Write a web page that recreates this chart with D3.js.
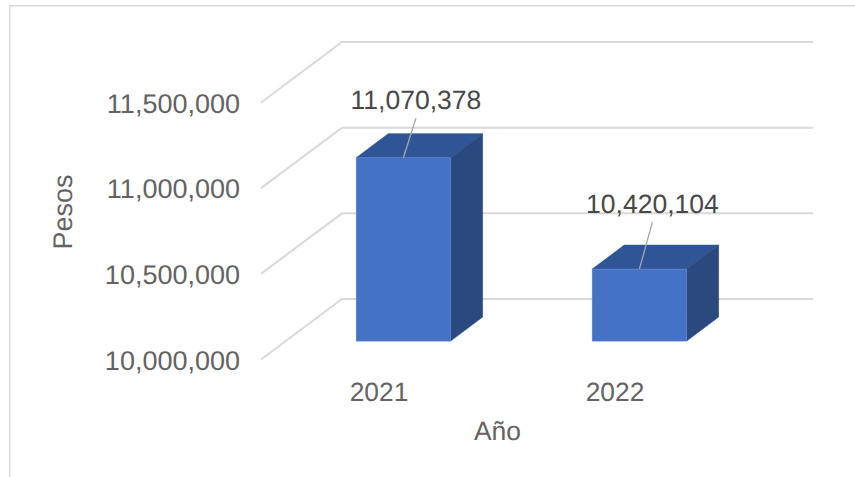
<!DOCTYPE html>
<html>
<head>
<meta charset="utf-8">
<script src="https://cdn.jsdelivr.net/npm/d3@7"></script>
<style>
html,body{margin:0;padding:0;background:#fff;}
svg{display:block;}
text{font-family:"Liberation Sans",Arial,sans-serif;text-rendering:geometricPrecision;}
</style>
</head>
<body>
<svg id="chart" width="855" height="477"></svg>
<script>
const categories = ["2021", "2022"];
const values = [11070378, 10420104];
const tickValues = [10000000, 10500000, 11000000, 11500000];
const yAxisTitle = "Pesos";
const xAxisTitle = "Año";

const svg = d3.select("#chart");

// Frame
svg.append("path")
  .attr("d", "M9.75,477V5.75H855")
  .attr("fill", "none").attr("stroke", "#d9d9d9").attr("stroke-width", 1.5);

// Front plane scales
const y = d3.scaleLinear().domain([10000000, 11500000]).range([359.5, 102.5]);
const x = d3.scaleBand().domain(categories).range([261, 733]).paddingInner(0.6).paddingOuter(0.3);

// 3D offsets
const floor = {dx: 81, dy: -60.5};    // full depth of the plot box
const barInset = {dx: 24.4, dy: -18.4}; // front of bar from the front plane
const barDepth = {dx: 32, dy: -24};
const gridRight = 813;

// Gridlines
const grid = svg.append("g").attr("fill", "none").attr("stroke", "#d9d9d9").attr("stroke-width", 2);
grid.selectAll("path").data(tickValues).join("path")
  .attr("d", d => `M${x.range()[0]},${y(d)}L${x.range()[0] + floor.dx},${y(d) + floor.dy}H${gridRight}`);

// Bars
const bars = svg.append("g").selectAll("g").data(categories.map((c, i) => ({c, v: values[i]}))).join("g");
const X0 = d => x(d.c) + barInset.dx;
const X1 = d => X0(d) + x.bandwidth();
const YB = () => y(10000000) + barInset.dy;
const YT = d => y(d.v) + barInset.dy;

bars.append("path")
  .attr("d", d => `M${X0(d)},${YT(d)}l${barDepth.dx},${barDepth.dy}H${X1(d) + barDepth.dx}L${X1(d)},${YT(d)}Z`)
  .attr("fill", "#2f5597").attr("stroke", "#2f5597").attr("stroke-width", 0.6);
bars.append("path")
  .attr("d", d => `M${X1(d)},${YT(d)}l${barDepth.dx},${barDepth.dy}V${YB() + barDepth.dy}L${X1(d)},${YB()}Z`)
  .attr("fill", "#2a4a7f").attr("stroke", "#2a4a7f").attr("stroke-width", 0.6);
bars.append("rect")
  .attr("x", X0).attr("y", YT)
  .attr("width", x.bandwidth()).attr("height", d => YB() - YT(d))
  .attr("fill", "#4472c4").attr("stroke", "#5f88d0").attr("stroke-width", 0.6);

// Leader lines
const labelDx = [12.5, 13], labelDy = [-39.5, -47];
bars.append("line")
  .attr("x1", d => (X0(d) + X1(d)) / 2).attr("y1", YT)
  .attr("x2", (d, i) => (X0(d) + X1(d)) / 2 + labelDx[i])
  .attr("y2", (d, i) => YT(d) + labelDy[i])
  .attr("stroke", "#a6a6a6").attr("stroke-width", 1.3);

// Data labels
const fmt = d3.format(",");
bars.append("text")
  .attr("x", (d, i) => (X0(d) + X1(d)) / 2 + labelDx[i])
  .attr("y", (d, i) => YT(d) + labelDy[i] - 9.5)
  .attr("text-anchor", "middle")
  .attr("font-size", 26.5).attr("fill", "#484848")
  .text(d => fmt(d.v));

// Y axis
const yAxis = svg.append("g").attr("transform", "translate(240,1)")
  .call(d3.axisLeft(y).tickValues(tickValues).tickFormat(fmt).tickSize(0).tickPadding(0));
yAxis.select(".domain").remove();
yAxis.selectAll("text").attr("font-size", 27).attr("font-family", '"Liberation Sans",Arial,sans-serif').attr("fill", "#636363");

// X axis
const xAxis = svg.append("g").attr("transform", "translate(0,382)")
  .call(d3.axisBottom(x).tickSize(0).tickPadding(0));
xAxis.select(".domain").remove();
xAxis.selectAll("text").attr("font-size", 26.4).attr("font-family", '"Liberation Sans",Arial,sans-serif').attr("fill", "#636363").attr("dy", "0.71em");

// Titles
svg.append("text").attr("transform", "translate(72,212) rotate(-90)")
  .attr("text-anchor", "middle").attr("font-size", 27).attr("fill", "#636363").text(yAxisTitle);
svg.append("text").attr("x", 497.5).attr("y", 440)
  .attr("text-anchor", "middle").attr("font-size", 26.4).attr("fill", "#636363").text(xAxisTitle);
</script>
</body>
</html>
